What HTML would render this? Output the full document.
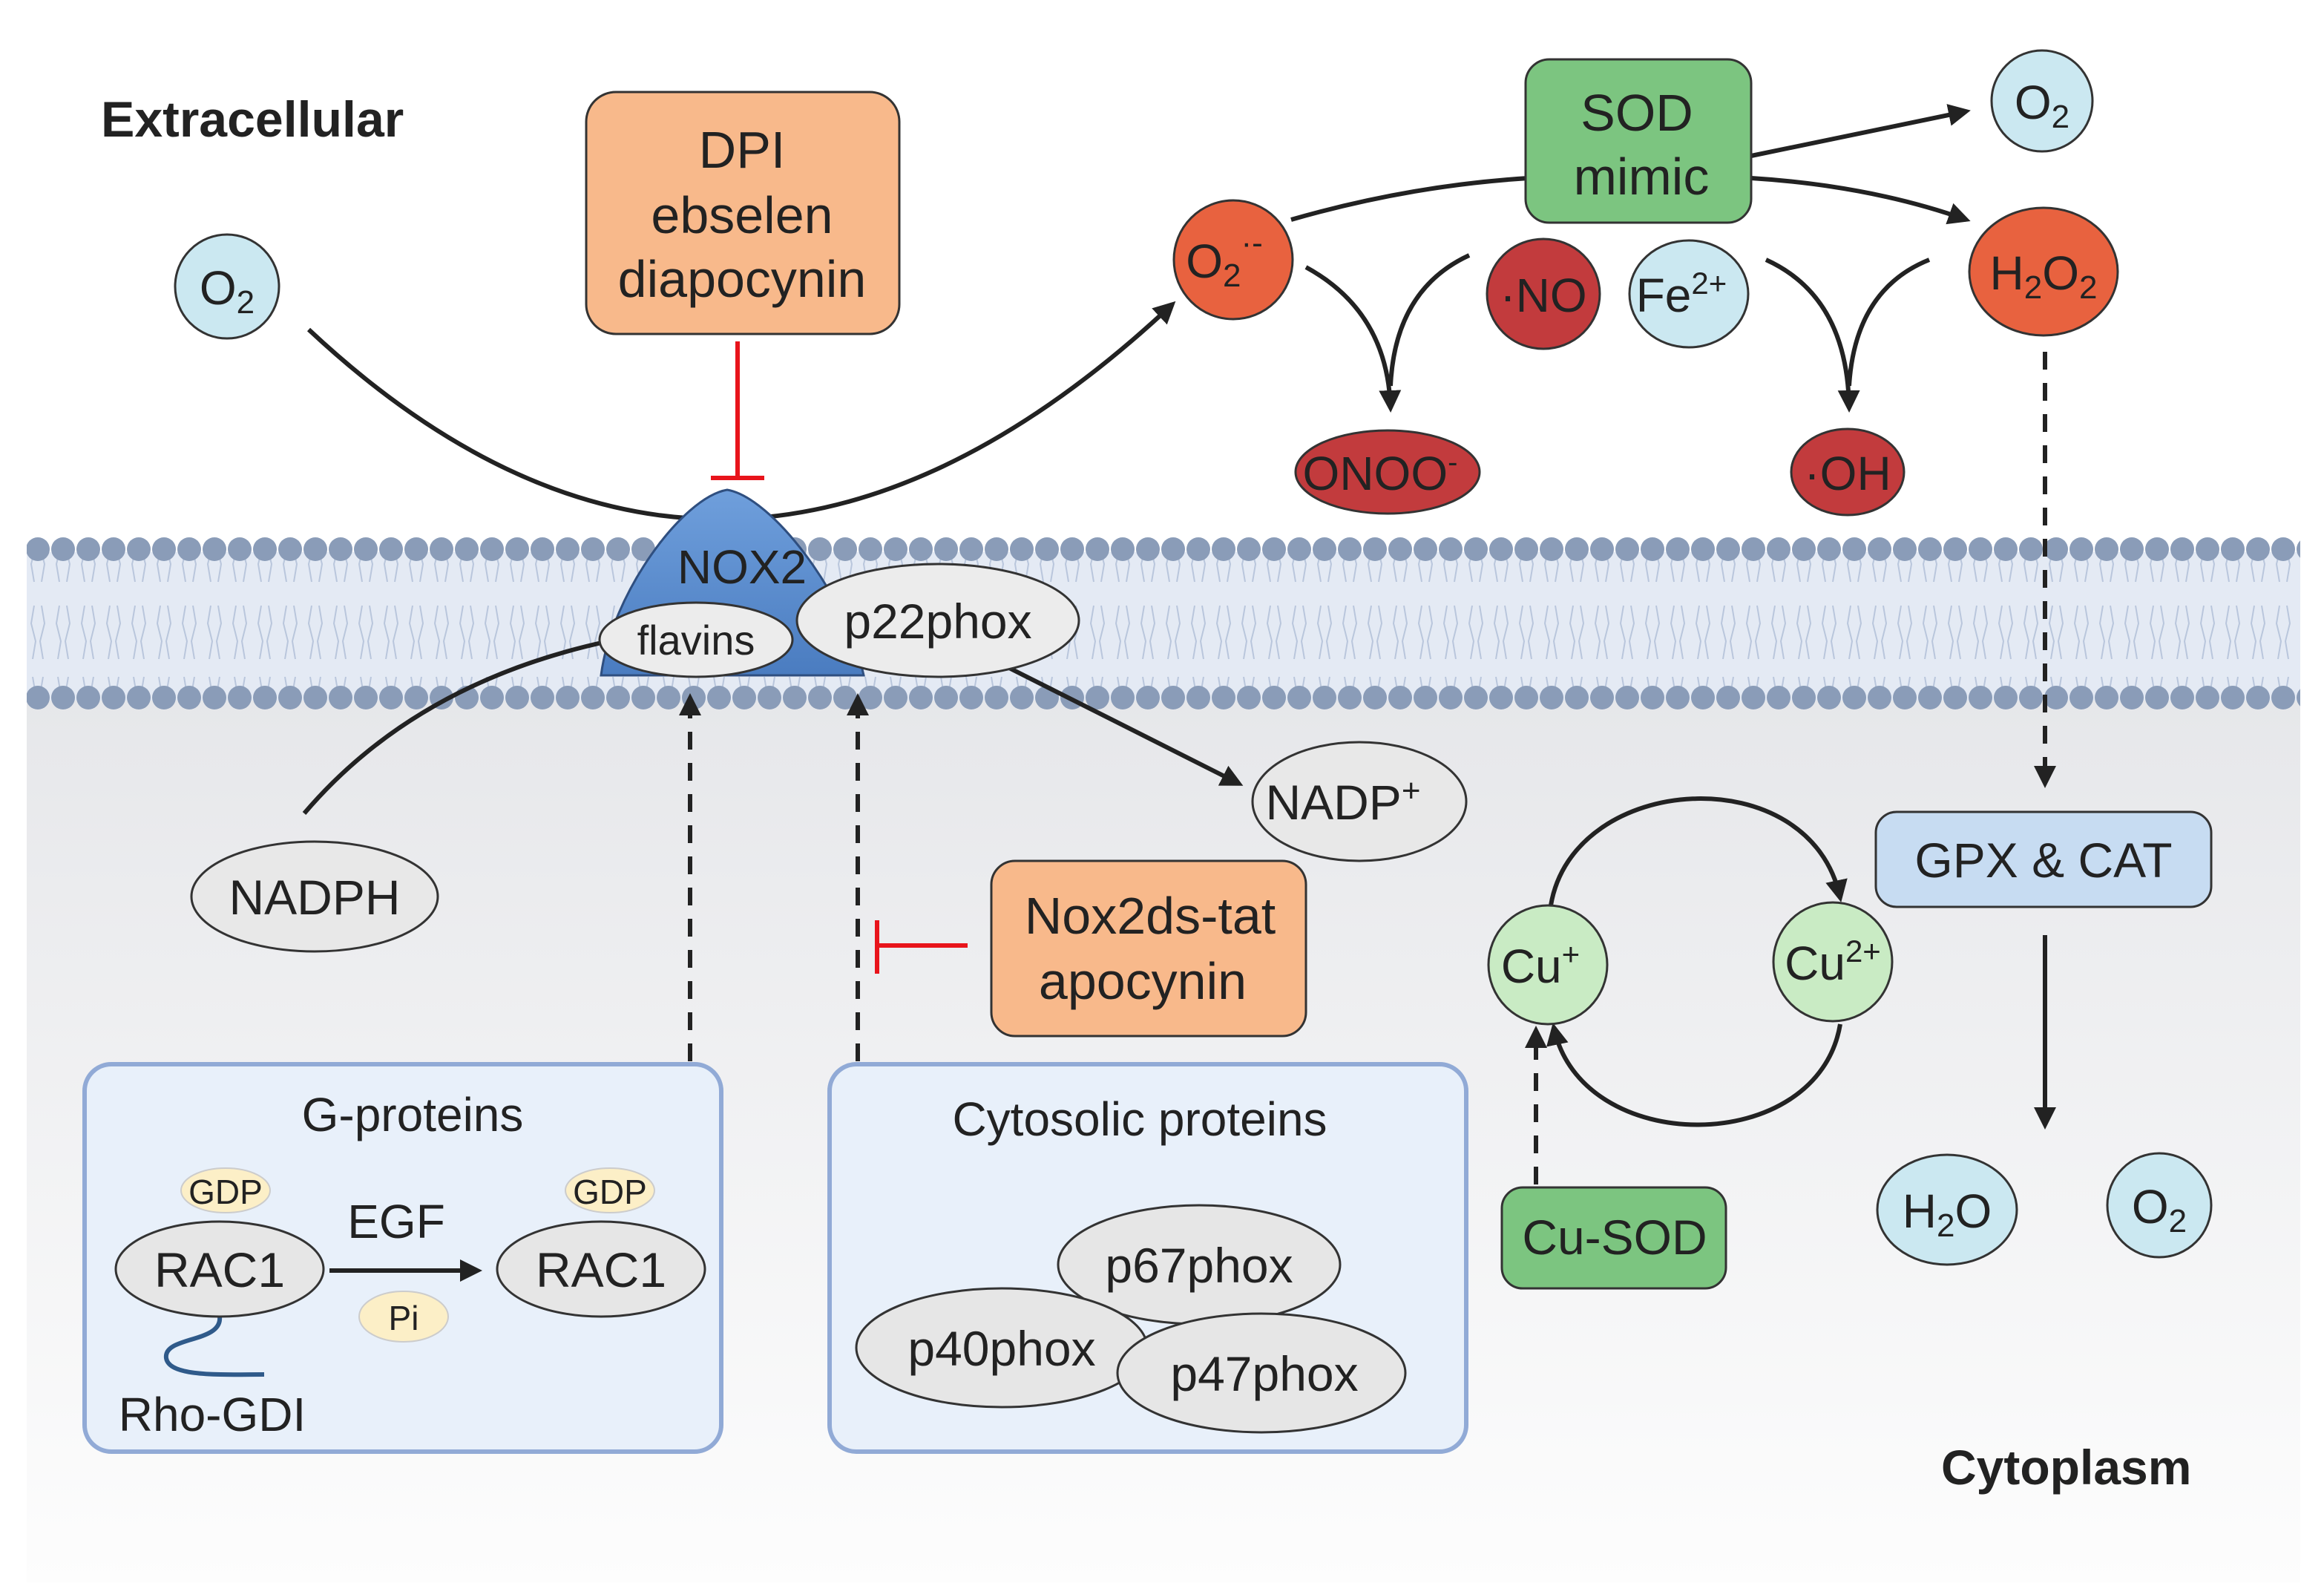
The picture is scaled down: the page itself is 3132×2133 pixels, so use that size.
<!DOCTYPE html>
<html><head><meta charset="utf-8"><style>
html,body{margin:0;padding:0;background:#fff}
svg{display:block}
text{font-family:"Liberation Sans",sans-serif;fill:#222}
</style></head><body>
<svg width="3132" height="2133" viewBox="0 0 1566 1066.5" xmlns="http://www.w3.org/2000/svg">
<defs>
<linearGradient id="cyto" x1="0" y1="0" x2="0" y2="1"><stop offset="0" stop-color="#e6e7ea"/><stop offset="1" stop-color="#fdfdfd"/></linearGradient>
<linearGradient id="nox" x1="0" y1="0" x2="0" y2="1"><stop offset="0" stop-color="#6f9fdc"/><stop offset="1" stop-color="#4a7cc0"/></linearGradient>
<pattern id="lip" width="17" height="100" patternUnits="userSpaceOnUse">
<path d="M6,8 L4,20 L7,32 L5,44 M11,8 L13,20 L10,32 L12,44 M6,92 L4,80 L7,68 L5,56 M11,92 L13,80 L10,68 L12,56" stroke="#b9c6dc" stroke-width="1" fill="none"/>
</pattern>
<pattern id="heads" width="17" height="20" patternUnits="userSpaceOnUse"><circle cx="8.5" cy="10" r="8" fill="#8a9cb8"/></pattern>
<marker id="ah" viewBox="0 0 10 10" refX="8" refY="5" markerWidth="5" markerHeight="5" orient="auto"><path d="M0,0 L10,5 L0,10 Z" fill="#222"/></marker>
</defs>
<rect x="18" y="470" width="1532" height="596" fill="url(#cyto)"/>
<rect x="18" y="372" width="1532" height="100" fill="#e4eaf4"/>
<rect x="18" y="372" width="1532" height="100" fill="url(#lip)"/>
<rect x="18" y="362" width="1532" height="20" fill="url(#heads)"/>
<rect x="18" y="460" width="1532" height="20" fill="url(#heads)"/>

<text x="68" y="92" font-size="34" font-weight="bold">Extracellular</text>
<text x="1308" y="1000" font-size="33" font-weight="bold">Cytoplasm</text>

<path d="M208,222 Q490,486 790,205" fill="none" stroke="#222" stroke-width="3" marker-end="url(#ah)"/>
<path d="M205,548 Q280,460 410,432" fill="none" stroke="#222" stroke-width="3"/>
<path d="M680,450 L835,528" fill="none" stroke="#222" stroke-width="3" marker-end="url(#ah)"/>

<circle cx="153" cy="193" r="35" fill="#cbe8f1" stroke="#333" stroke-width="1.5"/>
<text x="153" y="205" font-size="32" text-anchor="middle">O<tspan font-size="22" dy="6">2</tspan></text>

<rect x="395" y="62" width="211" height="163" rx="20" fill="#f8b98b" stroke="#333" stroke-width="1.5"/>
<text x="500" y="113" font-size="35" text-anchor="middle">DPI</text>
<text x="500" y="157" font-size="35" text-anchor="middle">ebselen</text>
<text x="500" y="200" font-size="35" text-anchor="middle">diapocynin</text>
<path d="M497,230 L497,322 M479,322 L515,322" stroke="#e8141b" stroke-width="3" fill="none"/>

<path d="M405,455 C412,400 460,335 490,330 C520,335 570,400 582,455 Z" fill="url(#nox)" stroke="#2f4f80" stroke-width="1.5"/>
<text x="500" y="393" font-size="32" text-anchor="middle">NOX2</text>
<ellipse cx="632" cy="418" rx="95" ry="38" fill="#ececec" stroke="#333" stroke-width="1.5"/>
<text x="632" y="430" font-size="33" text-anchor="middle">p22phox</text>
<ellipse cx="469" cy="431" rx="65" ry="25" fill="#ececec" stroke="#333" stroke-width="1.5"/>
<text x="469" y="441" font-size="28" text-anchor="middle">flavins</text>

<ellipse cx="212" cy="604" rx="83" ry="37" fill="#e8e8e8" stroke="#333" stroke-width="1.5"/>
<text x="212" y="616" font-size="33" text-anchor="middle">NADPH</text>
<ellipse cx="916" cy="540" rx="72" ry="40" fill="#e8e8e8" stroke="#333" stroke-width="1.5"/>
<text x="905" y="552" font-size="33" text-anchor="middle">NADP<tspan font-size="22" dy="-12">+</tspan></text>

<path d="M465,715 L465,470" stroke="#222" stroke-width="3" stroke-dasharray="12,9" marker-end="url(#ah)"/>
<path d="M578,715 L578,470" stroke="#222" stroke-width="3" stroke-dasharray="12,9" marker-end="url(#ah)"/>
<path d="M591,620 L591,656 M591,637 L652,637" stroke="#e8141b" stroke-width="3" fill="none"/>

<rect x="668" y="580" width="212" height="118" rx="16" fill="#f8b98b" stroke="#333" stroke-width="1.5"/>
<text x="775" y="629" font-size="35" text-anchor="middle">Nox2ds-tat</text>
<text x="770" y="673" font-size="35" text-anchor="middle">apocynin</text>

<rect x="57" y="717" width="429" height="261" rx="18" fill="#e8f0fa" stroke="#91aad6" stroke-width="3"/>
<text x="278" y="762" font-size="32" text-anchor="middle">G-proteins</text>
<path d="M148,887 C150,905 110,900 112,915 C114,928 150,926 178,926" fill="none" stroke="#2f5a8a" stroke-width="3"/>
<ellipse cx="148" cy="855" rx="70" ry="32" fill="#e6e6e6" stroke="#333" stroke-width="1.5"/>
<text x="148" y="867" font-size="33" text-anchor="middle">RAC1</text>
<ellipse cx="405" cy="855" rx="70" ry="32" fill="#e6e6e6" stroke="#333" stroke-width="1.5"/>
<text x="405" y="867" font-size="33" text-anchor="middle">RAC1</text>
<ellipse cx="152" cy="802" rx="30" ry="15" fill="#fcefc7" stroke="#ccc" stroke-width="1"/>
<text x="152" y="811" font-size="23" text-anchor="middle">GDP</text>
<ellipse cx="411" cy="802" rx="30" ry="15" fill="#fcefc7" stroke="#ccc" stroke-width="1"/>
<text x="411" y="811" font-size="23" text-anchor="middle">GDP</text>
<ellipse cx="272" cy="887" rx="30" ry="17" fill="#fcefc7" stroke="#ccc" stroke-width="1"/>
<text x="272" y="896" font-size="23" text-anchor="middle">Pi</text>
<text x="267" y="834" font-size="32" text-anchor="middle">EGF</text>
<path d="M222,856 L322,856" stroke="#222" stroke-width="3" marker-end="url(#ah)"/>
<text x="143" y="964" font-size="32" text-anchor="middle">Rho-GDI</text>

<rect x="559" y="717" width="429" height="261" rx="18" fill="#e8f0fa" stroke="#91aad6" stroke-width="3"/>
<text x="768" y="765" font-size="32" text-anchor="middle">Cytosolic proteins</text>
<ellipse cx="808" cy="852" rx="95" ry="40" fill="#e6e6e6" stroke="#333" stroke-width="1.5"/>
<text x="808" y="864" font-size="33" text-anchor="middle">p67phox</text>
<ellipse cx="675" cy="908" rx="98" ry="40" fill="#e6e6e6" stroke="#333" stroke-width="1.5"/>
<text x="675" y="920" font-size="33" text-anchor="middle">p40phox</text>
<ellipse cx="850" cy="925" rx="97" ry="40" fill="#e6e6e6" stroke="#333" stroke-width="1.5"/>
<text x="852" y="937" font-size="33" text-anchor="middle">p47phox</text>

<path d="M870,148 Q950,125 1030,120" fill="none" stroke="#222" stroke-width="3"/>
<path d="M1180,105 L1325,75" fill="none" stroke="#222" stroke-width="3" marker-end="url(#ah)"/>
<path d="M1180,120 Q1260,125 1325,148" fill="none" stroke="#222" stroke-width="3" marker-end="url(#ah)"/>
<path d="M880,180 Q935,210 937,275" fill="none" stroke="#222" stroke-width="3" marker-end="url(#ah)"/>
<path d="M990,172 Q940,195 937,260" fill="none" stroke="#222" stroke-width="3"/>
<path d="M1190,175 Q1245,200 1246,275" fill="none" stroke="#222" stroke-width="3" marker-end="url(#ah)"/>
<path d="M1300,175 Q1250,195 1246,260" fill="none" stroke="#222" stroke-width="3"/>

<circle cx="831" cy="175" r="40" fill="#e8623f" stroke="#333" stroke-width="1.5"/>
<text x="825" y="187" font-size="32" text-anchor="middle">O<tspan font-size="22" dy="6">2</tspan><tspan font-size="22" dy="-22">·-</tspan></text>
<rect x="1028" y="40" width="152" height="110" rx="16" fill="#7cc580" stroke="#333" stroke-width="1.5"/>
<text x="1103" y="88" font-size="35" text-anchor="middle">SOD</text>
<text x="1106" y="131" font-size="35" text-anchor="middle">mimic</text>
<circle cx="1376" cy="68" r="34" fill="#cbe8f1" stroke="#333" stroke-width="1.5"/>
<text x="1376" y="80" font-size="32" text-anchor="middle">O<tspan font-size="22" dy="6">2</tspan></text>
<ellipse cx="1377" cy="183" rx="50" ry="43" fill="#e8623f" stroke="#333" stroke-width="1.5"/>
<text x="1377" y="195" font-size="32" text-anchor="middle">H<tspan font-size="22" dy="6">2</tspan><tspan dy="-6">O</tspan><tspan font-size="22" dy="6">2</tspan></text>
<ellipse cx="1040" cy="198" rx="38" ry="37" fill="#c23b3d" stroke="#333" stroke-width="1.5"/>
<text x="1040" y="210" font-size="32" text-anchor="middle">·NO</text>
<ellipse cx="1138" cy="198" rx="40" ry="36" fill="#cbe8f1" stroke="#333" stroke-width="1.5"/>
<text x="1133" y="210" font-size="32" text-anchor="middle">Fe<tspan font-size="21" dy="-12">2+</tspan></text>
<ellipse cx="935" cy="318" rx="62" ry="28" fill="#c23b3d" stroke="#333" stroke-width="1.5"/>
<text x="930" y="330" font-size="32" text-anchor="middle">ONOO<tspan font-size="20" dy="-12">-</tspan></text>
<ellipse cx="1245" cy="318" rx="38" ry="29" fill="#c23b3d" stroke="#333" stroke-width="1.5"/>
<text x="1245" y="330" font-size="32" text-anchor="middle">·OH</text>

<path d="M1378,237 L1378,528" stroke="#222" stroke-width="3" stroke-dasharray="12,9" marker-end="url(#ah)"/>
<rect x="1264" y="547" width="226" height="64" rx="14" fill="#c7dcf2" stroke="#333" stroke-width="1.5"/>
<text x="1377" y="591" font-size="33" text-anchor="middle">GPX &amp; CAT</text>
<path d="M1378,630 L1378,758" stroke="#222" stroke-width="3" marker-end="url(#ah)"/>
<ellipse cx="1312" cy="815" rx="47" ry="37" fill="#cbe8f1" stroke="#333" stroke-width="1.5"/>
<text x="1312" y="827" font-size="32" text-anchor="middle">H<tspan font-size="22" dy="6">2</tspan><tspan dy="-6">O</tspan></text>
<circle cx="1455" cy="812" r="35" fill="#cbe8f1" stroke="#333" stroke-width="1.5"/>
<text x="1455" y="824" font-size="32" text-anchor="middle">O<tspan font-size="22" dy="6">2</tspan></text>

<path d="M1045,610 C1060,520 1220,510 1240,605" fill="none" stroke="#222" stroke-width="3" marker-end="url(#ah)"/>
<path d="M1240,690 C1225,780 1065,780 1047,692" fill="none" stroke="#222" stroke-width="3" marker-end="url(#ah)"/>
<circle cx="1043" cy="650" r="40" fill="#c9ebc4" stroke="#333" stroke-width="1.5"/>
<text x="1038" y="662" font-size="32" text-anchor="middle">Cu<tspan font-size="21" dy="-12">+</tspan></text>
<circle cx="1235" cy="648" r="40" fill="#c9ebc4" stroke="#333" stroke-width="1.5"/>
<text x="1235" y="660" font-size="32" text-anchor="middle">Cu<tspan font-size="21" dy="-12">2+</tspan></text>
<path d="M1035,798 L1035,694" stroke="#222" stroke-width="3" stroke-dasharray="12,9" marker-end="url(#ah)"/>
<rect x="1012" y="800" width="151" height="68" rx="14" fill="#7cc580" stroke="#333" stroke-width="1.5"/>
<text x="1088" y="845" font-size="33" text-anchor="middle">Cu-SOD</text>
</svg>
</body></html>
